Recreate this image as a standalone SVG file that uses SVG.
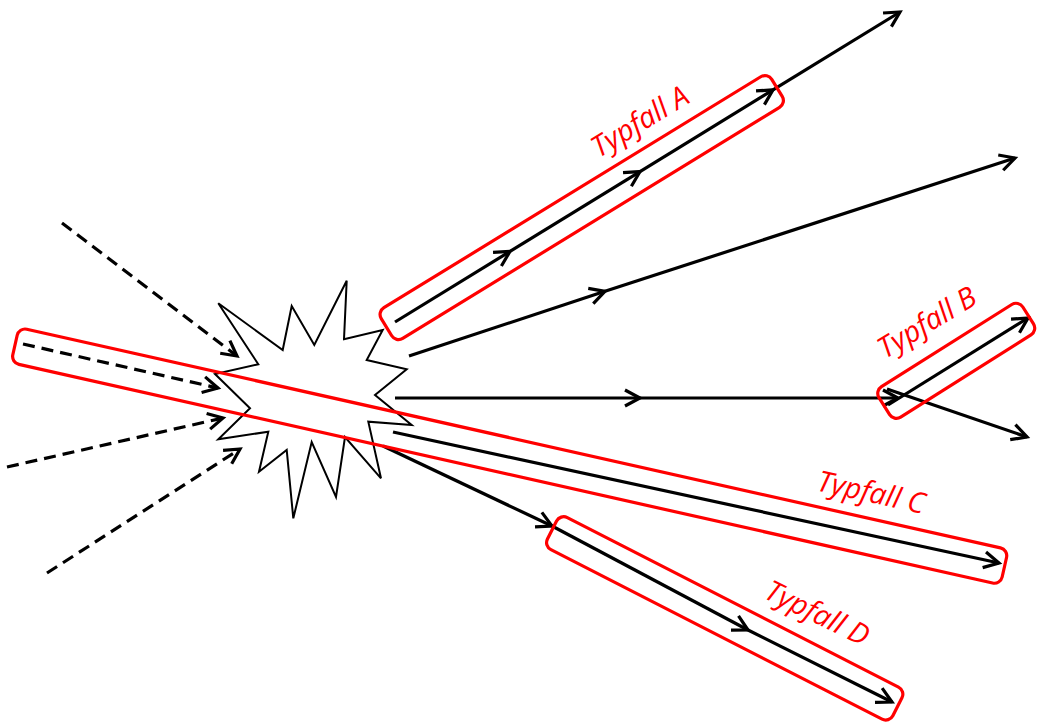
<svg xmlns="http://www.w3.org/2000/svg" width="1046" height="725" viewBox="0 0 1046 725">
<style>
.ln{fill:none;stroke:#000;stroke-width:3.2;marker-end:url(#ah)}
.ds{fill:none;stroke:#000;stroke-width:3.2;stroke-dasharray:12,7;marker-end:url(#ah)}
.box{fill:none;stroke:#ff0000;stroke-width:3.2}
.lbl{font-family:"Open Sans","Liberation Sans",sans-serif;font-style:italic;font-size:29px;fill:#ff0000;text-anchor:middle}
</style>
<defs>
<marker id="ah" viewBox="-18 -11 22 22" refX="0" refY="0" markerWidth="22" markerHeight="22" markerUnits="userSpaceOnUse" orient="auto">
<path d="M-15,-8 L0,0 L-15,8" fill="none" stroke="#000" stroke-width="3.2" stroke-linejoin="miter"/>
</marker>
</defs>
<g id="incoming">
<path class="ds" d="M62,223 L237,356"/>
<path class="ds" d="M23,344 L218,388"/>
<path class="ds" d="M7,467 L223,418"/>
<path class="ds" d="M47,573 L240,449"/>
</g>
<g id="explosion">
<polygon points="218.3,303.3 282.7,350 291.7,306 314.3,345 346.7,280.7 344,339.3 382.7,330 366.7,360 406.7,369.3 375,395 411.7,425 368.3,421.7 381,478.3 345,437 336,497 311.7,442 293.3,518.3 286.7,450 259,471.7 268.3,431.7 218.3,439.3 250,408.3 215,374 258.3,364.3" fill="#fff" stroke="#000" stroke-width="2"/>
</g>
<g id="connectors">
<path class="ln" d="M395,322 L510,251.4"/>
<path class="ln" d="M510,251.4 L640,171.6"/>
<path class="ln" d="M640,171.6 L773,89.9"/>
<path class="ln" d="M773,89.9 L900,12"/>
<path class="ln" d="M409,356 L605,291.3"/>
<path class="ln" d="M605,291.3 L1015,158"/>
<path class="ln" d="M395,398 L640,398"/>
<path class="ln" d="M640,398 L898,398"/>
<path class="ln" d="M888,405 L1028,318"/>
<path class="ln" d="M887,389 L1027,437"/>
<path class="ln" d="M393,432 L999,563"/>
<path class="ln" d="M383,446 L552,526"/>
<path class="ln" d="M552,526 L748,630"/>
<path class="ln" d="M748,630 L892,702"/>
</g>
<g id="typfall-a">
<rect class="box" x="-10" y="-18" width="458" height="36" rx="8" transform="translate(395,322) rotate(-31.5)"/>
<text class="lbl" transform="translate(645,130) rotate(-31.5)">Typfall A</text>
</g>
<g id="typfall-b">
<rect class="box" x="-2" y="-18" width="170" height="36" rx="8" transform="translate(886,405) rotate(-32.2)"/>
<text class="lbl" transform="translate(932,331) rotate(-31)">Typfall B</text>
</g>
<g id="typfall-c">
<rect class="box" x="0" y="-18" width="1014" height="36" rx="8" transform="translate(15,345) rotate(12.66)"/>
<text class="lbl" transform="translate(869,502) rotate(12.5)">Typfall C</text>
</g>
<g id="typfall-d">
<rect class="box" x="0" y="-18" width="388" height="36" rx="8" transform="translate(552,530) rotate(27.1)"/>
<text class="lbl" transform="translate(813,622) rotate(26)">Typfall D</text>
</g>
</svg>
